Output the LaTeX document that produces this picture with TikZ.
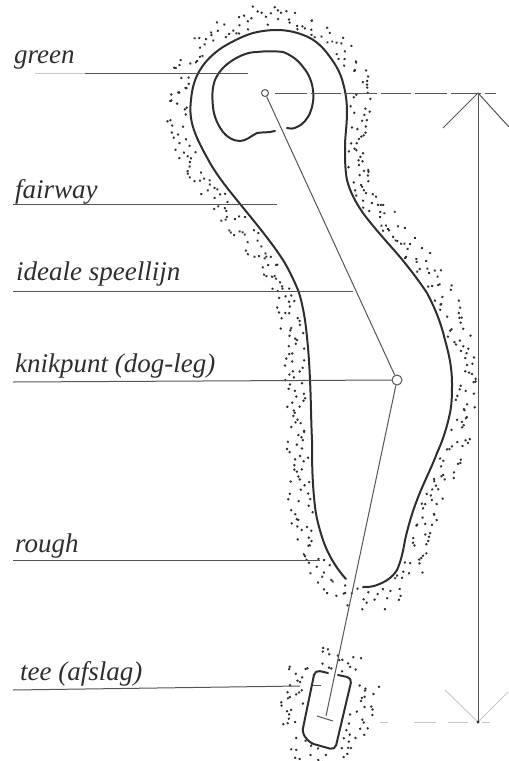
\documentclass[tikz,border=0pt]{standalone}
\usepackage{fontspec}
\setmainfont{Liberation Serif}
\usetikzlibrary{decorations.markings}
\definecolor{ink}{HTML}{2E2E2E}
\definecolor{thin}{HTML}{555555}
\definecolor{faint}{HTML}{C8C8C8}
\def\fairpath{(346,579) .. controls (335,567) and (327,552) .. (323,540)
  .. controls (318,525) and (316,515) .. (315,507)
  .. controls (312,480) and (312,460) .. (312,440)
  .. controls (311,420) and (311,400) .. (310,380)
  .. controls (309,355) and (307,335) .. (305,320)
  .. controls (303,308) and (301,298) .. (298,290)
  .. controls (293,278) and (288,268) .. (283,260)
  .. controls (272,243) and (258,226) .. (245,210)
  .. controls (232,194) and (220,180) .. (210,163)
  .. controls (203,150) and (197,140) .. (193,127)
  .. controls (190,117) and (190,108) .. (191,100)
  .. controls (192,88) and (195,78) .. (200,70)
  .. controls (206,60) and (214,53) .. (223,47)
  .. controls (233,41) and (243,36) .. (253,33)
  .. controls (261,31) and (269,30) .. (277,30)
  .. controls (289,30) and (300,33) .. (310,38)
  .. controls (319,43) and (325,50) .. (330,57)
  .. controls (336,65) and (341,74) .. (343,83)
  .. controls (346,93) and (347,103) .. (347,113)
  .. controls (347,125) and (345,136) .. (345,147)
  .. controls (345,158) and (345,170) .. (347,180)
  .. controls (350,192) and (356,203) .. (363,213)
  .. controls (374,228) and (388,243) .. (400,257)
  .. controls (410,269) and (419,281) .. (427,293)
  .. controls (435,308) and (441,323) .. (445,340)
  .. controls (449,354) and (452,368) .. (452,383)
  .. controls (452,393) and (452,403) .. (450,413)
  .. controls (447,427) and (443,440) .. (437,453)
  .. controls (431,469) and (423,484) .. (417,500)
  .. controls (412,513) and (408,527) .. (405,540)
  .. controls (403,552) and (401,561) .. (397,570)
  .. controls (392,578) and (385,582) .. (377,585)
  .. controls (372,587) and (367,587) .. (363,587)}
\tikzset{
  outline/.style={draw=ink,line width=2pt,line cap=round,line join=round},
  leader/.style={draw=thin,line width=1pt},
  tag/.style={anchor=base west,inner sep=0pt,font=\itshape\fontsize{27}{29}\selectfont,text=ink},
  hole/.style={circle,draw=thin,fill=white,line width=1pt,inner sep=0pt},
  speck/.style={
    decoration={markings,mark=between positions 0 and 1 step 2.6pt with {
      \pgfmathsetmacro{\dy}{3+rnd*23}
      \pgfmathsetmacro{\dx}{rnd*4}
      \fill[ink] (\dx pt,\dy pt) circle (1.35pt);}},
    postaction=decorate}
}
\begin{document}
\begin{tikzpicture}[x=1pt,y=-1pt]
\useasboundingbox (0,0) rectangle (509,761);
\pgfmathsetseed{4217}
% rough specks
\path[speck] \fairpath -- cycle;
\path[speck] (315,668) -- (355,678) -- (337,752) -- (300,733) -- cycle;
% fairway
\draw[outline] \fairpath;
% green
\draw[outline] (275,131) .. controls (268,133) and (262,132) .. (257,133)
  .. controls (251,136) and (246,141) .. (240,141)
  .. controls (233,141) and (227,137) .. (223,132)
  .. controls (217,124) and (214,116) .. (213,107)
  .. controls (212,97) and (212,88) .. (215,80)
  .. controls (219,71) and (225,65) .. (233,60)
  .. controls (241,55) and (249,52) .. (257,52)
  .. controls (266,51) and (275,51) .. (283,52)
  .. controls (291,55) and (298,60) .. (303,67)
  .. controls (309,74) and (312,82) .. (313,90)
  .. controls (314,98) and (313,106) .. (310,113)
  .. controls (307,120) and (302,125) .. (297,127)
  .. controls (293,129) and (290,129) .. (287,128);
% tee
\draw[outline,rounded corners=5pt] (328,673) -- (315,670) -- (302,733) -- (310,743) -- (335,750) -- (352,678) -- (338,675);
% play line
\node[hole,minimum size=7pt] (pin) at (265,93) {};
\node[hole,minimum size=10pt] (bend) at (397,380) {};
\coordinate (teeEnd) at (326,716);
\coordinate (barL) at (317,716);
\coordinate (barR) at (333,721);
\draw[leader] (pin) -- (bend);
\draw[leader] (bend) -- (teeEnd);
\draw[leader] (barL) -- (barR);
% labels
\node[tag] (lgreen) at (14,63) {green};
\node[tag] (lfair) at (15,198) {fairway};
\node[tag] (lideal) at (16,280) {ideale speellijn};
\node[tag] (lknik) at (15,372) {knikpunt (dog-leg)};
\node[tag] (lrough) at (15,552) {rough};
\node[tag] (ltee) at (20,680) {tee (afslag)};
% leaders
\coordinate (a0) at (35,73);
\coordinate (a1) at (85,73); \coordinate (b1) at (248,73);
\coordinate (a2) at (13,204); \coordinate (b2) at (277,204);
\coordinate (a3) at (13,291); \coordinate (b3) at (353,291);
\coordinate (a4) at (13,382); \coordinate (b4) at (bend.west);
\coordinate (a5) at (13,560); \coordinate (b5) at (320,560);
\coordinate (a6) at (13,690); \coordinate (b6) at (300,686);
\coordinate (c6) at (313,685); \coordinate (d6) at (321,685);
\draw[draw=faint,line width=1pt] (a0) -- (a1);
\foreach \i in {1,...,6} \draw[leader] (a\i) -- (b\i);
\draw[leader] (c6) -- (d6);
% dimension
\coordinate (dt) at (478,93);
\coordinate (db) at (478,722);
\coordinate (tl) at (443,128); \coordinate (tr) at (509,127);
\coordinate (bl) at (445,690); \coordinate (br) at (508,692);
\draw[leader] (dt) -- (db);
\draw[leader] (tl) -- (dt) -- (tr);
\draw[draw=faint,line width=0.9pt] (bl) -- (db) -- (br);
\fill[ink] (db) circle (1.6pt);
\coordinate (h1) at (275,93); \coordinate (h2) at (496,93);
\draw[leader,dash pattern=on 32pt off 4pt on 30pt off 4pt] (h1) -- (h2);
\coordinate (k1) at (380,722); \coordinate (k2) at (494,722);
\draw[draw=faint,line width=1pt,dash pattern=on 8pt off 26pt on 22pt off 12pt on 20pt off 14pt] (k1) -- (k2);
\end{tikzpicture}
\end{document}
